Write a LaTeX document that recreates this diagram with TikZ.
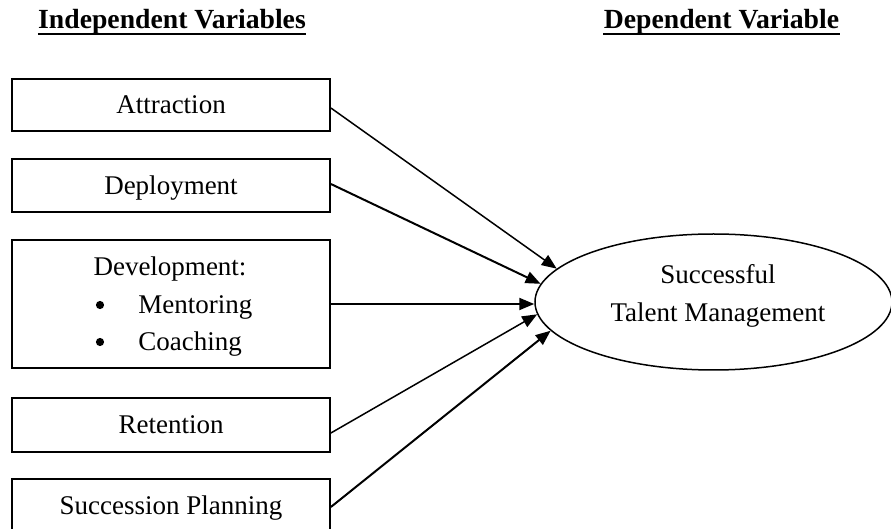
\documentclass[tikz,border=0pt]{standalone}
\usepackage{fontspec}
\setmainfont{Liberation Serif}
\usetikzlibrary{shapes.geometric,arrows.meta}
\begin{document}
\begin{tikzpicture}[x=0.5pt,y=-0.5pt,
  every node/.style={font=\fontsize{13.5}{19}\selectfont},
  varbox/.style={draw, line width=0.9pt, minimum width=159pt, inner sep=0pt, text height=9pt, text depth=0pt},
  plain/.style={inner sep=0pt, anchor=base},
  bullet/.style={circle, fill=black, inner sep=0pt, minimum size=4.1pt},
  hdr/.style={font=\fontsize{13.85}{16}\selectfont\bfseries, inner sep=0pt, anchor=base},
  uline/.style={line width=1.4pt},
  conn/.style={line width=0.75pt, -{Triangle[length=7.5pt,width=6pt]}},
  connb/.style={conn, line width=1pt}]
\useasboundingbox (0,0) rectangle (891,529);

% headers
\node[hdr] (iv) at (172,29) {Independent Variables};
\draw[uline] ([yshift=-2.5pt]iv.base west) -- ([yshift=-2.5pt]iv.base east);
\node[hdr] (dv) at (721.5,29) {Dependent Variable};
\draw[uline] ([yshift=-2.5pt]dv.base west) -- ([yshift=-2.5pt]dv.base east);

% independent variable boxes
\node[varbox, minimum height=26pt] (att) at (171,105) {Attraction};
\node[varbox, minimum height=26.5pt] (dep) at (171,185.5) {Deployment};
\node[varbox, minimum height=64pt] (dev) at (171,304) {};
\node[plain] (devt) at (170,276) {Development:};
\node[bullet] (b1) at (100,305) {};
\node[plain, anchor=base west] (men) at (138,314) {Mentoring};
\node[bullet] (b2) at (100,342) {};
\node[plain, anchor=base west] (coa) at (138,351) {Coaching};
\node[varbox, minimum height=27pt] (ret) at (171,425) {Retention};
\node[varbox, minimum height=26.5pt] (suc) at (171,505.5) {Succession Planning};

% dependent variable
\node[draw, ellipse, line width=0.75pt, minimum width=178.5pt, minimum height=68pt,
      inner sep=0pt] (stm) at (713.5,302) {};
\node[plain, align=center] (stmt) at (718,322) {Successful\\Talent Management};

% connectors
\draw[conn] ([yshift=-1.5pt]att.east) -- (stm.168);
\draw[connb] ([yshift=0.75pt]dep.east) -- (stm.174);
\draw[connb] (dev.east) -- (dev.east -| stm.west);
\draw[conn] ([yshift=-4pt]ret.east) -- (stm.184.5);
\draw[connb] ([yshift=-0.75pt]suc.east) -- (stm.190);
\end{tikzpicture}
\end{document}
